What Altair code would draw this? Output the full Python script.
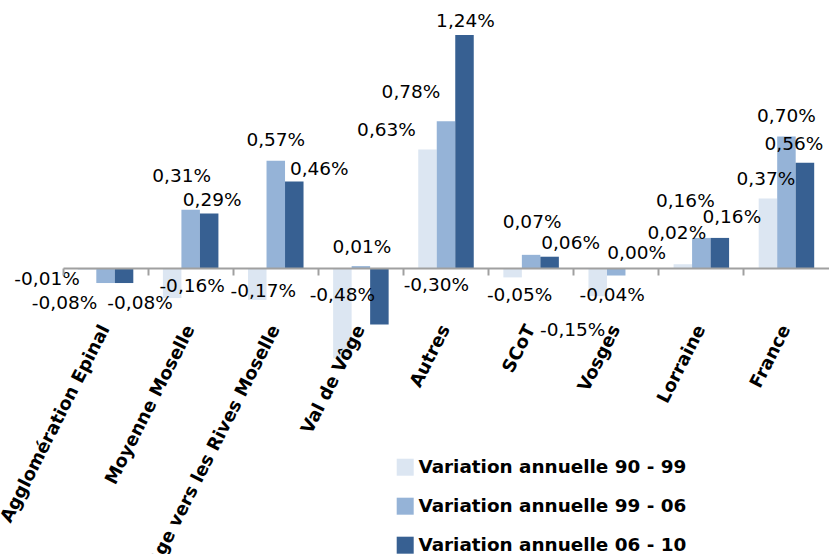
import altair as alt
import pandas as pd

# ---------------- data ----------------
categories = [
    "Agglomération Epinal",
    "Moyenne Moselle",
    "Vôge vers les Rives  Moselle",
    "Val de Vôge",
    "Autres",
    "SCoT",
    "Vosges",
    "Lorraine",
    "France",
]
series = [
    "Variation annuelle 90 - 99",
    "Variation annuelle 99 - 06",
    "Variation annuelle 06 - 10",
]
var_90_99 = [-0.01, -0.16, -0.17, -0.48, 0.63, -0.05, -0.15, 0.02, 0.37]
var_99_06 = [-0.08, 0.31, 0.57, 0.01, 0.78, 0.07, -0.04, 0.16, 0.70]
var_06_10 = [-0.08, 0.29, 0.46, -0.30, 1.24, 0.06, 0.00, 0.16, 0.56]

title_text = "Évolution annuelle moyenne de la population"

# ---------------- layout / style ----------------
colors = ["#DCE6F2", "#95B3D7", "#376092"]
GREY = "#A0A0A0"
PAD_LEFT, PAD_TOP = 63, 30
PLOT_W, PLOT_H = 766, 288
CANVAS_W, CANVAS_H = 829, 554
Y_MIN, Y_MAX = -0.266, 1.266
ZERO_OFFSET = -(0 - Y_MIN) / (Y_MAX - Y_MIN) * PLOT_H

# per-label nudges (px) of the data labels, as moved in the original
label_nudges = [
    (-40, 9), (-41, 20), (16, 20),
    (20, -12), (-9, -34), (3, -13),
    (6, -9), (0, -21), (25, -13),
    (0, -63), (1, -19), (57, -39),
    (-41, -20), (-35, -29), (1, -14),
    (7, 18), (1, -33), (21, -14),
    (-25, 34), (-4, 19), (2, -15),
    (-6, -31), (-16, -37), (12, -21),
    (-2, -19), (0, -20), (-11, -19),
]


def fmt(v):
    return f"{v:.2f}%".replace(".", ",")


rows = []
for i, cat in enumerate(categories):
    for s, vals in zip(series, [var_90_99, var_99_06, var_06_10]):
        rows.append(dict(category=cat, series=s, value=vals[i],
                         label=fmt(vals[i]), idx=len(rows)))
df = pd.DataFrame(rows)

y_scale = alt.Scale(domain=[Y_MIN, Y_MAX], nice=False, zero=False)

bars = alt.Chart(df).mark_bar().encode(
    x=alt.X(
        "category:N", sort=categories,
        scale=alt.Scale(paddingInner=0, paddingOuter=0),
        axis=alt.Axis(
            orient="bottom", title=None, labels=False, grid=False,
            domain=True, domainColor=GREY, domainWidth=2,
            ticks=True, tickColor=GREY, tickWidth=2, tickSize=7,
            bandPosition=0, offset=ZERO_OFFSET, zindex=1,
        ),
    ),
    xOffset=alt.XOffset(
        "series:N", sort=series,
        scale=alt.Scale(paddingInner=0, paddingOuter=0.8),
    ),
    y=alt.Y("value:Q", scale=y_scale, axis=None),
    color=alt.Color(
        "series:N", sort=series,
        scale=alt.Scale(domain=series, range=colors),
        legend=alt.Legend(
            title=None, orient="none", legendX=333, legendY=428,
            symbolType="square", symbolSize=289, symbolStrokeWidth=0,
            labelFont="DejaVu Sans", labelFontWeight="bold",
            labelFontSize=18.4, labelColor="black", labelOffset=4,
            rowPadding=20, padding=0, labelLimit=500,
        ),
    ),
)

label_axis = alt.Axis(
    orient="bottom", title=None, labelAngle=-63, labelAlign="right",
    labelBaseline="middle",
    labelFont="DejaVu Sans", labelFontWeight="bold", labelFontSize=18,
    labelColor="black", labelPadding=8, labelLimit=600, labelOverlap=False,
    domain=False, ticks=False, tickSize=0, grid=False, zindex=1,
)

texts = []
for k, (dx, dy) in enumerate(label_nudges):
    t = alt.Chart(df).transform_filter(alt.datum.idx == k).mark_text(
        dx=dx, dy=dy, font="DejaVu Sans", fontSize=18.5, color="black",
        align="center", baseline="middle",
    ).encode(
        x=alt.X("category:N", sort=categories,
                axis=label_axis if k == 0 else None),
        xOffset=alt.XOffset("series:N", sort=series),
        y=alt.Y("value:Q", scale=y_scale, axis=None),
        text="label:N",
    )
    texts.append(t)

chart = alt.layer(bars, *texts).resolve_axis(x="independent").properties(
    width=PLOT_W, height=PLOT_H,
    title=alt.TitleParams(
        title_text, font="Liberation Serif", fontSize=38, fontWeight="bold",
        color="black", anchor="middle", dx=-31.5, dy=8,
        baseline="alphabetic", offset=10,
    ),
    autosize=alt.AutoSizeParams(type="none"),
    padding={"left": PAD_LEFT, "top": PAD_TOP, "right": CANVAS_W - PAD_LEFT - PLOT_W,
             "bottom": CANVAS_H - PAD_TOP - PLOT_H},
).configure_view(stroke=None)

chart.save("out.html", embed_options={"renderer": "svg", "actions": False})
